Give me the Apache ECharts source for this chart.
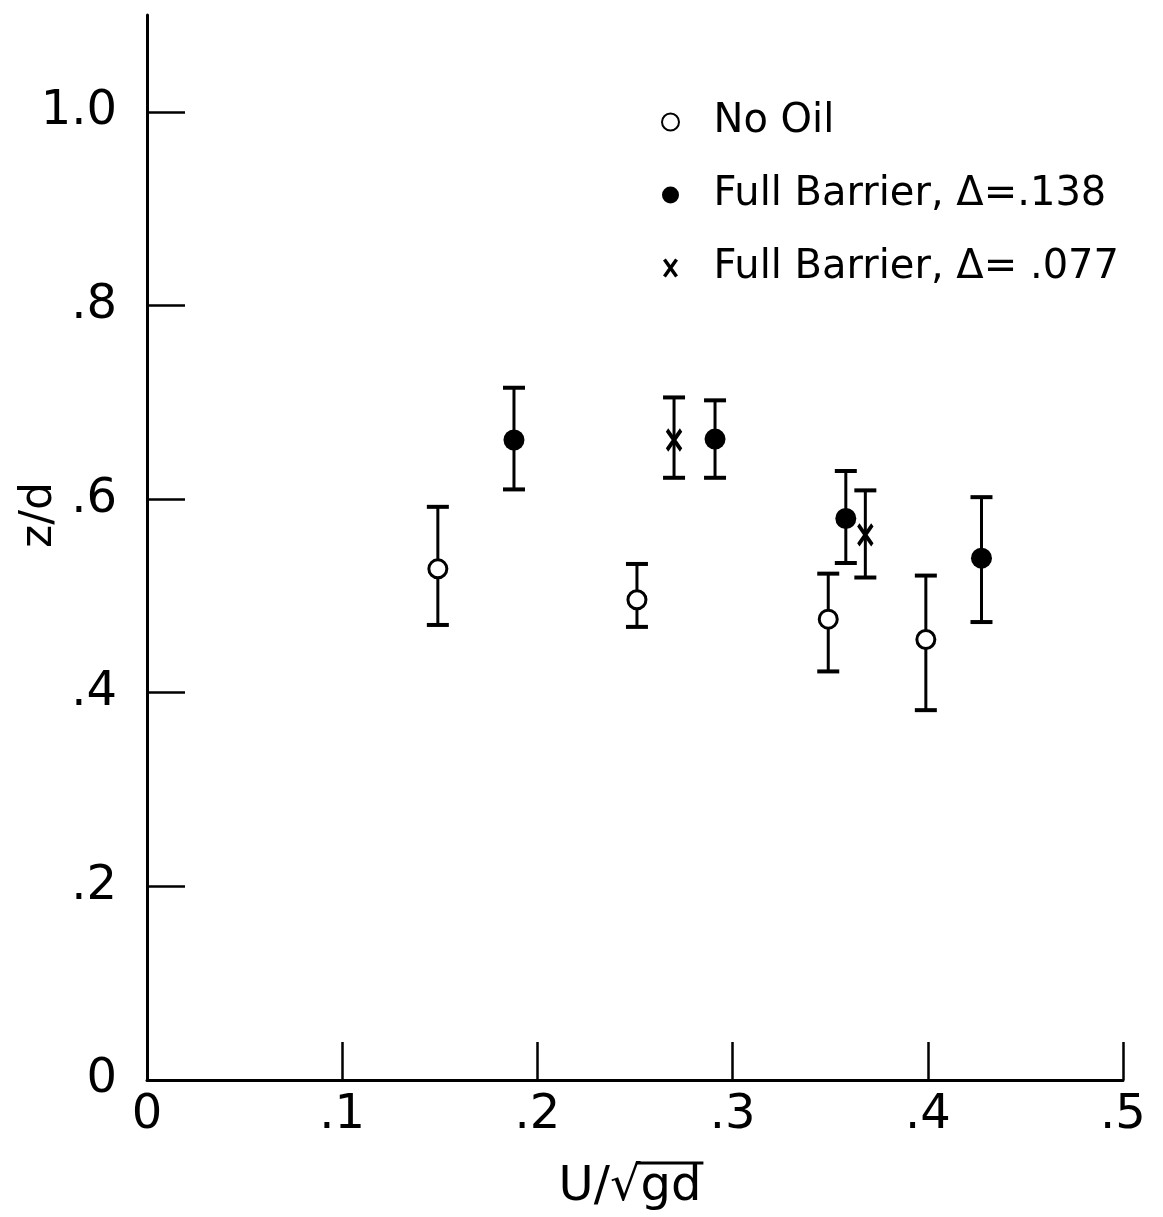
<!DOCTYPE html>
<html>
<head>
<meta charset="utf-8">
<script src="https://cdn.jsdelivr.net/npm/echarts@6/dist/echarts.min.js"></script>
<style>
  html, body { margin: 0; background: #fff; }
  #chart { width: 1163px; height: 1217px; }
</style>
</head>
<body>
<div id="chart"></div>
<script>
// z/d vs U/sqrt(gd), each point with its spread (lo..hi)
const noOilX  = [0.149, 0.251, 0.349, 0.399];
const noOilY  = [0.528, 0.496, 0.476, 0.455];
const noOilLo = [0.470, 0.468, 0.422, 0.382];
const noOilHi = [0.592, 0.533, 0.523, 0.521];

const fb138X  = [0.188, 0.291, 0.358, 0.4275];
const fb138Y  = [0.661, 0.662, 0.580, 0.539];
const fb138Lo = [0.610, 0.622, 0.534, 0.473];
const fb138Hi = [0.715, 0.702, 0.629, 0.602];

const fb077X  = [0.270, 0.368];
const fb077Y  = [0.661, 0.563];
const fb077Lo = [0.622, 0.519];
const fb077Hi = [0.705, 0.609];

const seriesNames = ['No Oil', 'Full Barrier, \u0394=.138', 'Full Barrier, \u0394= .077'];
const yTicks = [0, 0.2, 0.4, 0.6, 0.8, 1.0];
const xTicks = [0, 0.1, 0.2, 0.3, 0.4, 0.5];

const FONT = 'DejaVu Sans';

// "1.0", ".8", "0" style labels
function tickLabel(v) {
    if (Math.abs(v) < 1e-9) return '0';
    if (Math.abs(v - 1) < 1e-9) return '1.0';
    return String(Math.round(v * 10) / 10).replace(/^0/, '');
}

function pts(xs, ys) { return xs.map((x, i) => [x, ys[i]]); }
function bars(xs, lo, hi) { return xs.map((x, i) => [x, lo[i], hi[i]]); }

// vertical bar with caps
function errorBar(params, api) {
    const x = api.value(0);
    const lo = api.coord([x, api.value(1)]);
    const hi = api.coord([x, api.value(2)]);
    const w = 11;
    const stem = { stroke: '#000', lineWidth: 3, fill: null };
    const cap = { stroke: '#000', lineWidth: 4, fill: null };
    return {
        type: 'group',
        children: [
            { type: 'line', shape: { x1: lo[0], y1: lo[1], x2: hi[0], y2: hi[1] }, style: stem },
            { type: 'line', shape: { x1: lo[0] - w, y1: lo[1], x2: lo[0] + w, y2: lo[1] }, style: cap },
            { type: 'line', shape: { x1: hi[0] - w, y1: hi[1], x2: hi[0] + w, y2: hi[1] }, style: cap }
        ]
    };
}

function barSeries(data) {
    return {
        type: 'custom',
        renderItem: errorBar,
        data: data,
        encode: { x: 0, y: [1, 2] },
        silent: true,
        z: 1
    };
}

// x axis title: U/ then radical over gd
function xTitle(cx, cy, size) {
    const ctx = document.createElement('canvas').getContext('2d');
    ctx.font = size + 'px "' + FONT + '"';
    ctx.textBaseline = 'middle';
    const wHead = ctx.measureText('U/\u221A').width;
    const wRad = ctx.measureText('\u221A').width;
    const wTail = ctx.measureText('gd').width;
    const top = ctx.measureText('\u221A').actualBoundingBoxAscent || size * 0.6;
    const x0 = cx - (wHead + wTail) / 2;
    const ty = cy - top + 1.5;
    return {
        type: 'group',
        children: [
            { type: 'text', x: x0, y: cy, style: { text: 'U/\u221Agd', fontFamily: FONT, fontSize: size, fill: '#000', align: 'left', verticalAlign: 'middle' } },
            { type: 'line', shape: { x1: x0 + wHead - wRad * 0.15, y1: ty, x2: x0 + wHead + wTail + 2, y2: ty }, style: { stroke: '#000', lineWidth: 3 } }
        ]
    };
}

const chart = echarts.init(document.getElementById('chart'));
chart.setOption({
    backgroundColor: '#fff',
    animation: false,
    grid: { left: 147, right: 40, top: 15, bottom: 137 },
    legend: {
        data: [
            { name: seriesNames[0] },
            { name: seriesNames[1] },
            { name: seriesNames[2], itemStyle: { borderWidth: 3.5, borderColor: '#000' } }
        ],
        orient: 'vertical',
        left: 656,
        top: 97,
        itemWidth: 32,
        itemHeight: 17,
        itemGap: 33,
        textStyle: { fontFamily: FONT, fontSize: 40, color: '#000', padding: [0, 0, 0, 22] }
    },
    xAxis: {
        type: 'value',
        min: 0,
        max: 0.5,
        interval: 0.1,
        axisLine: { lineStyle: { color: '#000', width: 3 } },
        axisTick: { inside: true, length: 38, lineStyle: { color: '#000', width: 2.5 }, customValues: xTicks },
        axisLabel: { customValues: xTicks, formatter: tickLabel, margin: 12, color: '#000', fontFamily: FONT, fontSize: 48 },
        splitLine: { show: false }
    },
    yAxis: {
        type: 'value',
        min: 0,
        max: 1.1,
        interval: 0.2,
        axisLine: { lineStyle: { color: '#000', width: 3 } },
        axisTick: { inside: true, length: 38, lineStyle: { color: '#000', width: 2.5 }, customValues: yTicks },
        axisLabel: { customValues: yTicks, formatter: tickLabel, margin: 30, color: '#000', fontFamily: FONT, fontSize: 48 },
        splitLine: { show: false }
    },
    graphic: [
        {
            type: 'text', x: 40, y: 515, rotation: Math.PI / 2,
            style: { text: 'z/d', fontFamily: FONT, fontSize: 44, fill: '#000', align: 'center', verticalAlign: 'middle' }
        },
        xTitle(630, 1188, 48)
    ],
    series: [
        barSeries(bars(noOilX, noOilLo, noOilHi)),
        barSeries(bars(fb138X, fb138Lo, fb138Hi)),
        barSeries(bars(fb077X, fb077Lo, fb077Hi)),
        {
            name: seriesNames[0],
            type: 'scatter',
            symbol: 'circle',
            symbolSize: 18,
            itemStyle: { color: '#fff', borderColor: '#000', borderWidth: 3, opacity: 1 },
            data: pts(noOilX, noOilY),
            z: 3
        },
        {
            name: seriesNames[1],
            type: 'scatter',
            symbol: 'circle',
            symbolSize: 21,
            itemStyle: { color: '#000', opacity: 1 },
            data: pts(fb138X, fb138Y),
            z: 3
        },
        {
            name: seriesNames[2],
            type: 'scatter',
            symbol: 'path://M0,0L10,14M10,0L0,14',
            symbolSize: [14, 20],
            itemStyle: { color: 'rgba(0,0,0,0)', borderColor: '#000', borderWidth: 4, opacity: 1 },
            data: pts(fb077X, fb077Y),
            z: 3
        }
    ]
});
</script>
</body>
</html>
